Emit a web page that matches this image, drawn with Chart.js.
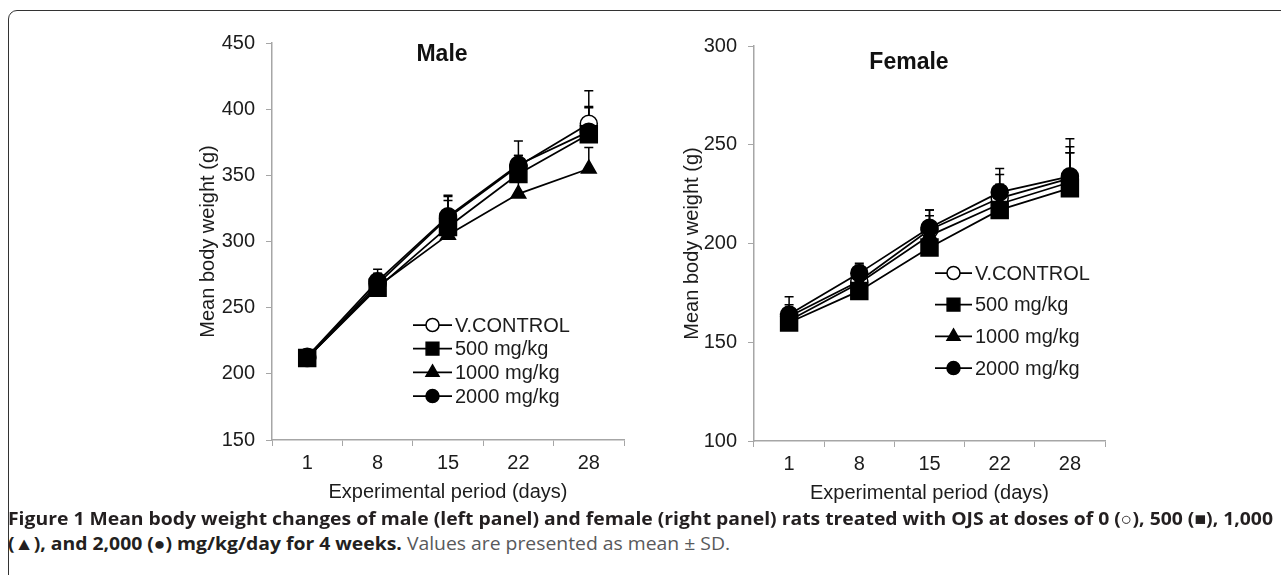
<!DOCTYPE html>
<html>
<head>
<meta charset="utf-8">
<script src="https://cdn.jsdelivr.net/npm/chart.js@4.4.1/dist/chart.umd.min.js"></script>
<style>
  html, body { margin: 0; padding: 0; background: #fff; }
  body { width: 1281px; height: 575px; position: relative; overflow: hidden; }
  #frame {
    position: absolute; left: 8px; top: 10px; width: 1290px; height: 580px;
    border: 1.5px solid #333; border-radius: 9px; box-sizing: border-box;
  }
  .panel { position: absolute; }
  .ptitle {
    position: absolute; font-family: "Liberation Sans", Arial, sans-serif;
    font-weight: bold; font-size: 23px; color: #111; transform: translate(-50%, -50%);
    white-space: nowrap;
  }
  .caption {
    position: absolute; left: 8px; font-family: "Open Sans", "Noto Sans", sans-serif;
    font-size: 18px; white-space: nowrap; transform-origin: 0 50%; color: #231f20;
  }
  .caption b { font-weight: 700; }
  .caption .rest { color: #58595b; }
</style>
</head>
<body>
<div id="frame"></div>

<div class="panel" style="left:192px; top:20px; width:450px; height:488px;">
  <canvas id="male" width="450" height="488"></canvas>
</div>
<div class="panel" style="left:676px; top:20px; width:460px; height:489px;">
  <canvas id="female" width="460" height="489"></canvas>
</div>
<div class="ptitle" style="left:442px; top:53px;">Male</div>
<div class="ptitle" style="left:909px; top:61px;">Female</div>

<div class="caption" id="cap1" style="top:506px;"><b>Figure 1 Mean body weight changes of male (left panel) and female (right panel) rats treated with OJS at doses of 0 (○), 500 (■), 1,000</b></div>
<div class="caption" id="cap2" style="top:531px;"><b>(▲), and 2,000 (●) mg/kg/day for 4 weeks.</b> <span class="rest">Values are presented as mean ± SD.</span></div>

<script>
// days on the x axis
const days = ['1', '8', '15', '22', '28'];
const groups = ['V.CONTROL', '500 mg/kg', '1000 mg/kg', '2000 mg/kg'];

// male means and SD (g)
const maleControl = [212, 268, 318, 357, 389];
const male500 = [212, 265, 311, 351, 381];
const male1000 = [212, 266, 305, 336, 355];
const male2000 = [213, 270, 319, 358, 383];
const maleControlSd = [5, 8, 16, 19, 25];
const male500Sd = [5, 10, 20, 14, 20];
const male1000Sd = [4, 9, 14, 12, 16];
const male2000Sd = [5, 9, 16, 7, 19];

// female means and SD (g)
const femaleControl = [163, 181, 207, 223, 233];
const female500 = [160, 176, 198, 217, 228];
const female1000 = [161, 180, 204, 220, 231];
const female2000 = [164, 185, 208, 226, 234];
const femaleControlSd = [6, 8, 10, 12, 16];
const female500Sd = [5, 8, 12, 10, 18];
const female1000Sd = [4, 9, 10, 10, 15];
const female2000Sd = [9, 5, 9, 12, 19];

const FONT = '"Liberation Sans", Arial, sans-serif';
const TEXT = '#1c1c1c';
const AXIS = '#a6a6a6';

const markers = [
    { style: 'circle', radius: 8.5, fill: '#fff', legendRadius: 6.5 },
    { style: 'rect', radius: 12, fill: '#000', legendRadius: 9 },
    { style: 'triangle', radius: 8.5, fill: '#000', legendRadius: 7.5 },
    { style: 'circle', radius: 8.5, fill: '#000', legendRadius: 6.5 }
];

function makeDatasets(series, sds) {
    return series.map((data, i) => ({
        label: groups[i],
        data: data,
        sd: sds[i],
        borderColor: '#000',
        borderWidth: 1.75,
        backgroundColor: markers[i].fill,
        pointStyle: markers[i].style,
        pointRadius: markers[i].radius,
        pointBackgroundColor: markers[i].fill,
        pointBorderColor: '#000',
        pointBorderWidth: 1.5,
        legendRadius: markers[i].legendRadius,
        order: 3 - i
    }));
}

// upward error bars (mean + SD)
const errorBars = {
    id: 'errorBars',
    beforeDatasetsDraw(chart) {
        const ctx = chart.ctx;
        const yScale = chart.scales.y;
        ctx.save();
        ctx.strokeStyle = '#000';
        ctx.lineWidth = 1.5;
        chart.data.datasets.forEach((ds, di) => {
            const meta = chart.getDatasetMeta(di);
            meta.data.forEach((pt, i) => {
                const top = yScale.getPixelForValue(ds.data[i] + ds.sd[i]);
                ctx.beginPath();
                ctx.moveTo(pt.x, pt.y);
                ctx.lineTo(pt.x, top);
                ctx.moveTo(pt.x - 4.5, top);
                ctx.lineTo(pt.x + 4.5, top);
                ctx.stroke();
            });
        });
        ctx.restore();
    }
};

function drawShape(ctx, style, r, x, y) {
    if (style === 'rect') {
        const s = r * Math.SQRT1_2;
        ctx.rect(x - s, y - s, 2 * s, 2 * s);
    } else if (style === 'triangle') {
        ctx.moveTo(x, y - r);
        ctx.lineTo(x + r * 0.866, y + r / 2);
        ctx.lineTo(x - r * 0.866, y + r / 2);
        ctx.closePath();
    } else {
        ctx.arc(x, y, r, 0, Math.PI * 2);
    }
}

// legend drawn inside the plot area
const innerLegend = {
    id: 'innerLegend',
    afterDraw(chart, args, opts) {
        const ctx = chart.ctx;
        ctx.save();
        ctx.font = '20px ' + FONT;
        ctx.textBaseline = 'middle';
        chart.data.datasets.forEach((ds, i) => {
            const y = opts.y + i * opts.gap;
            ctx.strokeStyle = '#000';
            ctx.lineWidth = 1.75;
            ctx.beginPath();
            ctx.moveTo(opts.x, y);
            ctx.lineTo(opts.x + opts.len, y);
            ctx.stroke();
            ctx.lineWidth = 1.5;
            ctx.fillStyle = ds.pointBackgroundColor;
            ctx.beginPath();
            drawShape(ctx, ds.pointStyle, ds.legendRadius, opts.x + opts.len / 2, y);
            ctx.fill();
            ctx.stroke();
            ctx.fillStyle = TEXT;
            ctx.fillText(ds.label, opts.x + opts.len + 3, y + 1);
        });
        ctx.restore();
    }
};

function makeChart(id, datasets, yMin, yMax, axisWidth, pad, legend) {
    return new Chart(document.getElementById(id), {
        type: 'line',
        data: { labels: days, datasets: datasets },
        plugins: [errorBars, innerLegend],
        options: {
            responsive: false,
            animation: false,
            devicePixelRatio: 1,
            layout: { padding: pad },
            plugins: {
                legend: { display: false },
                tooltip: { enabled: false },
                innerLegend: legend
            },
            scales: {
                x: {
                    offset: true,
                    grid: { offset: true, drawOnChartArea: false, color: AXIS, tickLength: 6 },
                    border: { color: AXIS, width: 1.5 },
                    ticks: { color: TEXT, font: { family: FONT, size: 20 }, padding: 5, maxRotation: 0 },
                    title: { display: true, text: 'Experimental period (days)', color: TEXT, font: { family: FONT, size: 20 } },
                    afterFit(scale) { scale.height = 68; }
                },
                y: {
                    min: yMin,
                    max: yMax,
                    ticks: { stepSize: 50, color: TEXT, font: { family: FONT, size: 20 }, padding: 11 },
                    grid: { drawOnChartArea: false, color: AXIS, tickLength: 6 },
                    border: { color: AXIS, width: 1.5 },
                    title: { display: true, text: 'Mean body weight (g)', color: TEXT, font: { family: FONT, size: 20 } },
                    afterFit(scale) { scale.width = axisWidth; }
                }
            }
        }
    });
}

makeChart('male',
    makeDatasets([maleControl, male500, male1000, male2000],
                 [maleControlSd, male500Sd, male1000Sd, male2000Sd]),
    150, 450, 80, { top: 15, right: 18, left: 0, bottom: 0 },
    { x: 221, y: 305, gap: 23.7, len: 39 });

makeChart('female',
    makeDatasets([femaleControl, female500, female1000, female2000],
                 [femaleControlSd, female500Sd, female1000Sd, female2000Sd]),
    100, 300, 78, { top: 26, right: 31, left: 0, bottom: 0 },
    { x: 259, y: 253, gap: 31.7, len: 37 });

// stretch caption lines to the frame width
const cap1 = document.getElementById('cap1');
const cap2 = document.getElementById('cap2');
const k = 1265 / cap1.getBoundingClientRect().width;
cap1.style.transform = 'scaleX(' + k + ')';
cap2.style.transform = 'scaleX(' + k + ')';
</script>
</body>
</html>
